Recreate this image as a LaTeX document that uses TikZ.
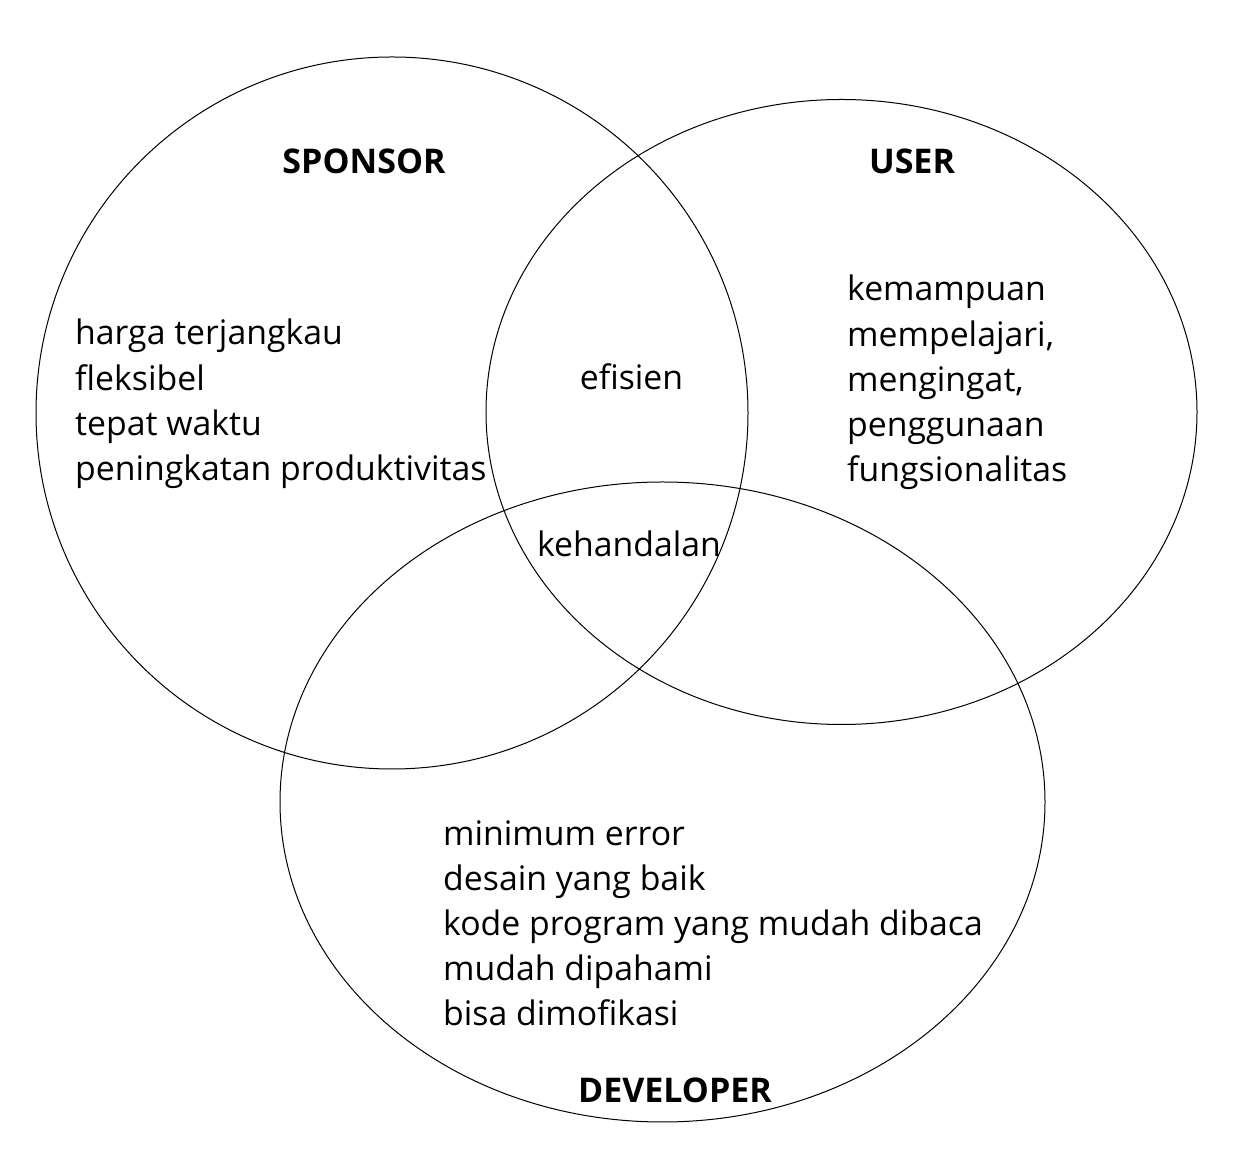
\documentclass[tikz,border=0pt]{standalone}
\usepackage{fontspec}
\setmainfont{Open Sans}
\begin{document}
\begin{tikzpicture}[x=1pt,y=1pt,
  venn/.style={draw=black,line width=1pt},
  item/.style={anchor=base west,inner sep=0pt,font=\fontsize{33.8}{40}\selectfont},
  mid/.style={anchor=base,inner sep=0pt,font=\fontsize{33.8}{40}\selectfont},
  head/.style={anchor=base,inner sep=0pt,font=\fontsize{34}{40}\selectfont\bfseries}]
\useasboundingbox (0,0) rectangle (1248,1170);
% ellipses (y = 1170 - ypx)
\draw[venn] (392,757) ellipse [x radius=356,y radius=356];
\draw[venn] (841.5,758) ellipse [x radius=355.5,y radius=312.5];
\draw[venn] (662.5,368) ellipse [x radius=382.5,y radius=320];
% headings
\node[head] (sp) at (364,996) {SPONSOR};
\node[head] (us) at (912,996) {USER};
\node[head] (dv) at (675,67) {DEVELOPER};
% sponsor
\node[item] (s1) at (75,825) {harga terjangkau};
\node[item] (s2) at (75,779) {fleksibel};
\node[item] (s3) at (75,734) {tepat waktu};
\node[item] (s4) at (75,689) {peningkatan produktivitas};
% centre
\node[mid] (ef) at (631.5,780) {efisien};
\node[mid] (kh) at (629,613) {kehandalan};
% user
\node[item] (u1) at (847,869) {kemampuan};
\node[item] (u2) at (847,823) {mempelajari,};
\node[item] (u3) at (847,778) {mengingat,};
\node[item] (u4) at (847,733) {penggunaan};
\node[item] (u5) at (847,688) {fungsionalitas};
% developer
\node[item] (d1) at (443,324) {minimum error};
\node[item] (d2) at (443,279) {desain yang baik};
\node[item] (d3) at (443,234) {kode program yang mudah dibaca};
\node[item] (d4) at (443,189) {mudah dipahami};
\node[item] (d5) at (443,144) {bisa dimofikasi};
\end{tikzpicture}
\end{document}
